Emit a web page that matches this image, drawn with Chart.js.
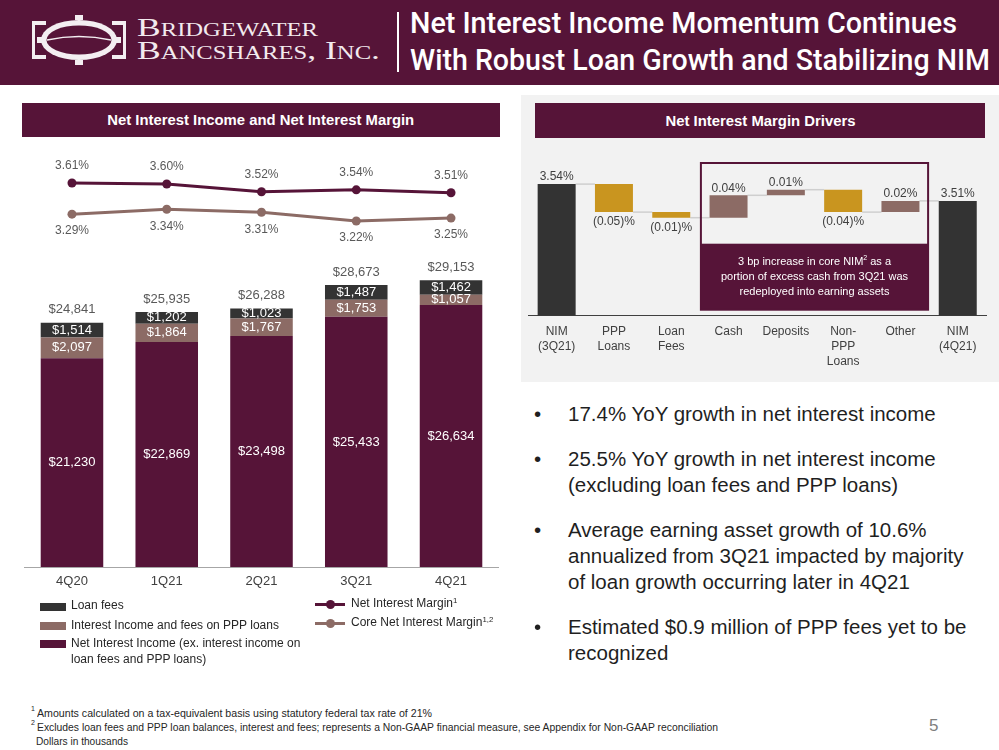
<!DOCTYPE html>
<html>
<head>
<meta charset="utf-8">
<title>Net Interest Income Momentum</title>
<script src="https://cdn.jsdelivr.net/npm/chart.js@4.4.1/dist/chart.umd.min.js"></script>
<style>
  body { margin:0; width:999px; height:750px; position:relative; overflow:hidden; background:#fff;
         font-family:"Liberation Sans", Arial, sans-serif; color:#262626; }
  .abs { position:absolute; }
  .fit { white-space:nowrap; display:inline-block; }
  #header { left:0; top:0; width:999px; height:85px; background:#561438; }
  .logo-line { position:absolute; left:137px; font-family:"Liberation Serif","DejaVu Serif",serif; font-variant:small-caps;
               font-size:26px; line-height:25px; color:#f2eaee; transform-origin:left center; }
  .title-line { position:absolute; left:410px; font-family:Roboto,"Liberation Sans",Arial,sans-serif;
                font-weight:500; font-size:29px; line-height:29px; color:#fff; transform-origin:left center; }
  .bar-title { position:absolute; background:#561438; color:#fff; display:flex; align-items:center; justify-content:center; }
  .bar-title span { font-weight:bold; font-size:14px; transform-origin:center; }
  .swatch { position:absolute; width:26px; height:8px; }
  .leg { position:absolute; font-size:12px; line-height:16px; color:#262626; white-space:nowrap; }
  sup { font-size:0.65em; line-height:0; vertical-align:0.5em; }
  #bullets { left:568px; top:401px; font-size:20.5px; line-height:26px; color:#1f1f1f; white-space:nowrap; }
  #bullets .item { position:relative; margin-bottom:19px; }
  #bullets .dot { position:absolute; left:-34px; top:0; }
  .foot { position:absolute; left:37px; font-size:10px; line-height:14px; color:#262626; transform-origin:left center; }
  .foot-sup { position:absolute; left:31px; font-size:7px; color:#262626; }
</style>
</head>
<body>

<div id="header" class="abs"></div>
<svg class="abs" style="left:30px;top:14px" width="98" height="52" viewBox="0 0 98 52">
  <ellipse cx="49" cy="26" rx="38" ry="20" fill="#f3eef1"/>
  <ellipse cx="49" cy="26" rx="32.5" ry="14.5" fill="#561438"/>
  <path d="M17 26 Q49 19 81 26" stroke="#f3eef1" stroke-width="1.6" fill="none"/>
  <rect x="45" y="1" width="8" height="5" fill="#f3eef1"/>
  <rect x="45" y="46" width="8" height="5" fill="#f3eef1"/>
  <rect x="2" y="7" width="14" height="4" fill="#f3eef1"/>
  <rect x="2" y="41" width="14" height="4" fill="#f3eef1"/>
  <rect x="2" y="7" width="3" height="38" fill="#f3eef1"/>
  <rect x="7" y="23" width="9" height="6" fill="#f3eef1"/>
  <rect x="82" y="7" width="14" height="4" fill="#f3eef1"/>
  <rect x="82" y="41" width="14" height="4" fill="#f3eef1"/>
  <rect x="93" y="7" width="3" height="38" fill="#f3eef1"/>
  <rect x="82" y="23" width="9" height="6" fill="#f3eef1"/>
</svg>
<div id="logo1" class="logo-line fit" style="top:15px">Bridgewater</div>
<div id="logo2" class="logo-line fit" style="top:38px">Bancshares, Inc.</div>
<div class="abs" style="left:397px;top:12px;width:2px;height:60px;background:#fff"></div>
<div id="title1" class="title-line fit" style="top:9px">Net Interest Income Momentum Continues</div>
<div id="title2" class="title-line fit" style="top:46px">With Robust Loan Growth and Stabilizing NIM</div>

<!-- left panel -->
<div class="bar-title" style="left:22px;top:103px;width:478px;height:34px"><span id="leftTitle" class="fit">Net Interest Income and Net Interest Margin</span></div>
<canvas id="niiChart" class="abs" style="left:20px;top:140px" width="485" height="460"></canvas>

<div class="swatch" style="left:40px;top:603px;background:#333333"></div>
<div class="leg" style="left:71px;top:597px">Loan fees</div>
<div class="swatch" style="left:40px;top:622px;background:#8c6b65"></div>
<div class="leg" style="left:71px;top:617px">Interest Income and fees on PPP loans</div>
<div class="swatch" style="left:40px;top:640px;background:#561438"></div>
<div class="leg" style="left:71px;top:635px">Net Interest Income (ex. interest income on<br>loan fees and PPP loans)</div>

<div class="abs" style="left:315px;top:603px;width:30px;height:3px;background:#561438"></div>
<div class="abs" style="left:326px;top:600px;width:9px;height:9px;border-radius:50%;background:#561438"></div>
<div class="leg" style="left:351px;top:595px">Net Interest Margin<sup>1</sup></div>
<div class="abs" style="left:315px;top:622px;width:30px;height:3px;background:#8c6b65"></div>
<div class="abs" style="left:326px;top:619px;width:9px;height:9px;border-radius:50%;background:#8c6b65"></div>
<div class="leg" style="left:351px;top:614px">Core Net Interest Margin<sup>1,2</sup></div>

<!-- right panel -->
<div class="abs" style="left:521px;top:95px;width:478px;height:287px;background:#f2f2f2"></div>
<div class="bar-title" style="left:535px;top:103px;width:450px;height:35px"><span id="rightTitle" class="fit">Net Interest Margin Drivers</span></div>
<canvas id="nimChart" class="abs" style="left:521px;top:145px" width="478" height="235"></canvas>

<div id="bullets" class="abs">
  <div class="item"><span class="dot">•</span>17.4% YoY growth in net interest income</div>
  <div class="item"><span class="dot">•</span>25.5% YoY growth in net interest income<br>(excluding loan fees and PPP loans)</div>
  <div class="item"><span class="dot">•</span>Average earning asset growth of 10.6%<br>annualized from 3Q21 impacted by majority<br>of loan growth occurring later in 4Q21</div>
  <div class="item"><span class="dot">•</span>Estimated $0.9 million of PPP fees yet to be<br>recognized</div>
</div>

<div class="foot-sup" style="top:705px">1</div>
<div id="foot1" class="foot fit" style="top:707px">Amounts calculated on a tax-equivalent basis using statutory federal tax rate of 21%</div>
<div class="foot-sup" style="top:719px">2</div>
<div id="foot2" class="foot fit" style="top:721px">Excludes loan fees and PPP loan balances, interest and fees; represents a Non-GAAP financial measure, see Appendix for Non-GAAP reconciliation</div>
<div id="foot3" class="foot fit" style="top:735px;left:36px">Dollars in thousands</div>
<div class="abs" style="left:929px;top:716px;font-size:17px;color:#7f7f7f">5</div>

<script>
// ---- data: net interest income by quarter (dollars in thousands) ----
const quarters = ["4Q20", "1Q21", "2Q21", "3Q21", "4Q21"];
const coreNii = [21230, 22869, 23498, 25433, 26634];
const pppIncome = [2097, 1864, 1767, 1753, 1057];
const loanFees = [1514, 1202, 1023, 1487, 1462];
const nim = [3.61, 3.60, 3.52, 3.54, 3.51];
const coreNim = [3.29, 3.34, 3.31, 3.22, 3.25];

// ---- data: NIM drivers 3Q21 -> 4Q21 ----
const driverLabels = [["NIM", "(3Q21)"], ["PPP", "Loans"], ["Loan", "Fees"], "Cash", "Deposits", ["Non-", "PPP", "Loans"], "Other", ["NIM", "(4Q21)"]];
const nimStart = 3.54;
const driverValues = [-0.05, -0.01, 0.04, 0.01, -0.04, 0.02];
const nimEnd = 3.51;

const FONT = "'Liberation Sans', Arial, sans-serif";
const MAROON = "#561438";
const TAUPE = "#8c6b65";
const CHARCOAL = "#333333";
const GOLD = "#c9951f";

const money = (v) => "$" + v.toLocaleString("en-US");
const pct = (v) => v.toFixed(2) + "%";
const driverText = (v) => (v < 0 ? "(" + Math.abs(v).toFixed(2) + ")%" : v.toFixed(2) + "%");

// --- Net Interest Income + NIM chart ---
const niiLabels = {
  id: "niiLabels",
  afterDatasetsDraw(chart) {
    const ctx = chart.ctx;
    ctx.save();
    ctx.textAlign = "center";
    ctx.textBaseline = "middle";
    ctx.font = "13px " + FONT;
    ctx.fillStyle = "#ffffff";
    [2, 3, 4].forEach((di) => {
      chart.getDatasetMeta(di).data.forEach((bar, i) => {
        ctx.fillText(money(chart.data.datasets[di].data[i]), bar.x, (bar.y + bar.base) / 2);
      });
    });
    ctx.fillStyle = "#595959";
    chart.getDatasetMeta(4).data.forEach((bar, i) => {
      ctx.fillText(money(coreNii[i] + pppIncome[i] + loanFees[i]), bar.x, bar.y - 13);
    });
    ctx.font = "12px " + FONT;
    chart.getDatasetMeta(0).data.forEach((pt, i) => ctx.fillText(pct(nim[i]), pt.x, pt.y - 17));
    chart.getDatasetMeta(1).data.forEach((pt, i) => ctx.fillText(pct(coreNim[i]), pt.x, pt.y + 17));
    ctx.restore();
  },
};

new Chart(document.getElementById("niiChart"), {
  type: "bar",
  data: {
    labels: quarters,
    datasets: [
      { type: "line", label: "Net Interest Margin", data: nim, yAxisID: "yNim",
        borderColor: MAROON, backgroundColor: MAROON, borderWidth: 3, pointRadius: 4.5, pointBorderWidth: 0 },
      { type: "line", label: "Core Net Interest Margin", data: coreNim, yAxisID: "yNim",
        borderColor: TAUPE, backgroundColor: TAUPE, borderWidth: 3, pointRadius: 4.5, pointBorderWidth: 0 },
      { label: "Net Interest Income (ex. interest income on loan fees and PPP loans)", data: coreNii, backgroundColor: MAROON },
      { label: "Interest Income and fees on PPP loans", data: pppIncome, backgroundColor: TAUPE },
      { label: "Loan fees", data: loanFees, backgroundColor: CHARCOAL },
    ],
  },
  options: {
    responsive: false,
    animation: false,
    layout: { padding: { top: 10, left: 4.6, right: 6.6, bottom: 8 } },
    datasets: { bar: { barPercentage: 0.66, categoryPercentage: 1 } },
    plugins: { legend: { display: false }, tooltip: { enabled: false } },
    scales: {
      x: {
        stacked: true,
        grid: { display: false, drawTicks: false, tickLength: 0 },
        border: { color: "#a6a6a6", width: 1 },
        ticks: { padding: 7, color: "#404040", maxRotation: 0, autoSkip: false, font: { size: 13, family: FONT } },
        afterFit(scale) { scale.height = 25; },
      },
      y: { stacked: true, display: false, min: 0, max: 42400 },
      yNim: { display: false, min: -0.331, max: 3.9486 },
    },
  },
  plugins: [niiLabels],
});

// --- NIM drivers waterfall ---
const WF_MIN = 3.305;
const wfRanges = [[WF_MIN, nimStart]];
const wfColors = [CHARCOAL];
const wfText = [pct(nimStart)];
const wfLevels = [nimStart];
let level = nimStart;
driverValues.forEach((d) => {
  const next = Math.round((level + d) * 100) / 100;
  wfRanges.push([Math.min(level, next), Math.max(level, next)]);
  wfColors.push(d < 0 ? GOLD : TAUPE);
  wfText.push(driverText(d));
  wfLevels.push(next);
  level = next;
});
wfRanges.push([WF_MIN, nimEnd]);
wfColors.push(CHARCOAL);
wfText.push(pct(nimEnd));

const waterfallExtras = {
  id: "waterfallExtras",
  beforeDatasetsDraw(chart) {
    const ctx = chart.ctx;
    const y = chart.scales.y;
    const bars = chart.getDatasetMeta(0).data;
    ctx.save();
    ctx.strokeStyle = "#cfcfcf";
    ctx.lineWidth = 1.5;
    for (let i = 0; i < bars.length - 1; i++) {
      const py = y.getPixelForValue(wfLevels[i]);
      ctx.beginPath();
      ctx.moveTo(bars[i].x + bars[i].width / 2, py);
      ctx.lineTo(bars[i + 1].x - bars[i + 1].width / 2, py);
      ctx.stroke();
    }
    ctx.restore();
  },
  afterDatasetsDraw(chart) {
    const ctx = chart.ctx;
    const x = chart.scales.x;
    const area = chart.chartArea;
    const bars = chart.getDatasetMeta(0).data;
    ctx.save();

    // callout box around Cash..Other
    const step = x.width / driverLabels.length;
    const left = x.getPixelForTick(3) - step / 2 + 1;
    const right = x.getPixelForTick(6) + step / 2 - 1;
    const top = area.top + 13;
    const bottom = area.bottom - 6;
    const fillTop = area.bottom - 72;
    ctx.fillStyle = MAROON;
    ctx.fillRect(left, fillTop, right - left, bottom - fillTop);
    ctx.strokeStyle = MAROON;
    ctx.lineWidth = 2;
    ctx.strokeRect(left, top, right - left, bottom - top);

    const cx = (left + right) / 2;
    const cy = (fillTop + bottom) / 2;
    ctx.fillStyle = "#ffffff";
    ctx.textBaseline = "middle";
    const a = "3 bp increase in core NIM", b = " as a";
    ctx.font = "11px " + FONT;
    const wa = ctx.measureText(a).width, wb = ctx.measureText(b).width;
    ctx.font = "7px " + FONT;
    const ws = ctx.measureText("2").width;
    const sx = cx - (wa + ws + wb) / 2;
    ctx.textAlign = "left";
    ctx.font = "11px " + FONT;
    ctx.fillText(a, sx, cy - 15);
    ctx.font = "7px " + FONT;
    ctx.fillText("2", sx + wa, cy - 19);
    ctx.font = "11px " + FONT;
    ctx.fillText(b, sx + wa + ws, cy - 15);
    ctx.textAlign = "center";
    ctx.fillText("portion of excess cash from 3Q21 was", cx, cy);
    ctx.fillText("redeployed into earning assets", cx, cy + 15);

    // value labels
    ctx.font = "12px " + FONT;
    ctx.fillStyle = "#404040";
    bars.forEach((bar, i) => {
      const topPx = Math.min(bar.y, bar.base);
      const botPx = Math.max(bar.y, bar.base);
      const neg = i > 0 && i < bars.length - 1 && driverValues[i - 1] < 0;
      ctx.fillText(wfText[i], bar.x, neg ? botPx + 10 : topPx - 7);
    });
    ctx.restore();
  },
};

new Chart(document.getElementById("nimChart"), {
  type: "bar",
  data: {
    labels: driverLabels,
    datasets: [{ data: wfRanges, backgroundColor: wfColors, barPercentage: 0.663, categoryPercentage: 1 }],
  },
  options: {
    responsive: false,
    animation: false,
    layout: { padding: { top: 5, left: 7, right: 12.6, bottom: 9.3 } },
    plugins: { legend: { display: false }, tooltip: { enabled: false } },
    scales: {
      x: {
        grid: { display: false, drawTicks: false, tickLength: 0 },
        border: { color: "#404040", width: 1 },
        ticks: { padding: 8.5, color: "#404040", maxRotation: 0, autoSkip: false, font: { size: 12, family: FONT, lineHeight: 1.25 } },
        afterFit(scale) { scale.height = 55; },
      },
      y: { display: false, min: WF_MIN, max: 3.6009 },
    },
  },
  plugins: [waterfallExtras],
});

// squeeze text to the widths used on the slide
function fit(id, width) {
  const el = document.getElementById(id);
  const w = el.getBoundingClientRect().width;
  el.style.transform = `scaleX(${width / w})`;
}
fit("logo1", 181);
fit("logo2", 243);
fit("title1", 547);
fit("title2", 580);
fit("leftTitle", 307);
fit("rightTitle", 190);
fit("foot1", 395);
fit("foot2", 681);
fit("foot3", 92);
</script>
</body>
</html>
